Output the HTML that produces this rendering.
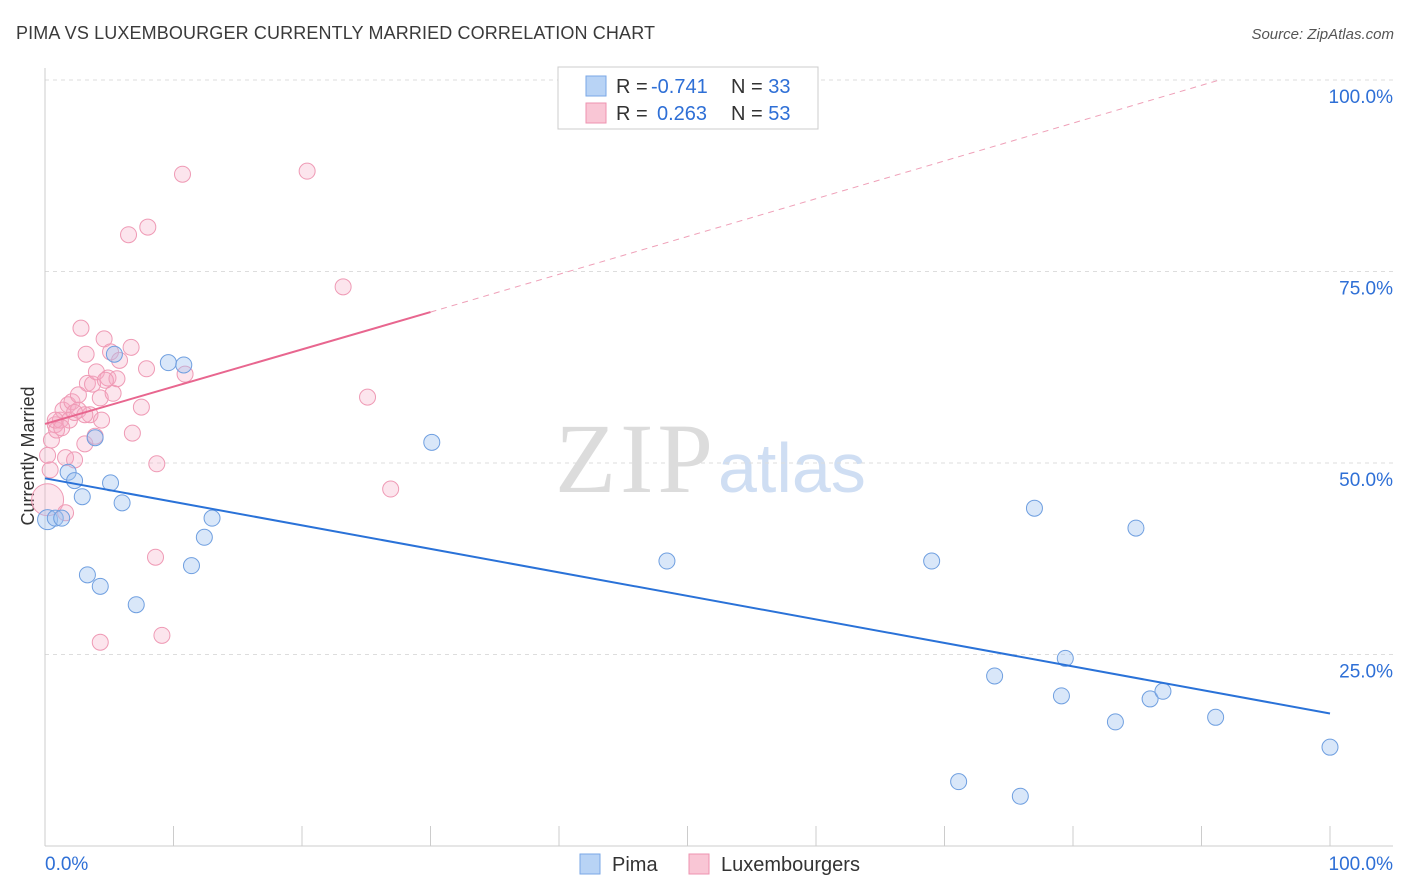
<!DOCTYPE html>
<html><head><meta charset="utf-8"><style>
body{margin:0;background:#fff;font-family:"Liberation Sans",sans-serif;}
#c{position:absolute;left:0;top:0;}
</style></head><body>
<svg id="c" width="1406" height="892">
<text x="16" y="39" font-size="18" fill="#3a3a3a" textLength="639">PIMA VS LUXEMBOURGER CURRENTLY MARRIED CORRELATION CHART</text>
<text x="1394" y="39" font-size="15" fill="#555" text-anchor="end" font-style="italic">Source: ZipAtlas.com</text>
<text x="34" y="456" font-size="18" fill="#333" text-anchor="middle" transform="rotate(-90 34 456)">Currently Married</text>
<g id="wm">
<text x="555" y="492" font-size="100" font-family="Liberation Serif,serif" fill="#dcdcdc" textLength="158">ZIP</text>
<text x="718" y="492" font-size="70" fill="#cfdef3">atlas</text>
</g>
<g id="grid"></g><g id="axes"></g><g id="marks"></g>
<g>
<rect x="558" y="67" width="260" height="62" fill="#fff" stroke="#ccc"/>
<rect x="586" y="76" width="20" height="20" fill="#b8d3f5" stroke="#7aa7e6"/>
<rect x="586" y="103" width="20" height="20" fill="#f9c6d5" stroke="#ee93b0"/>
<text x="616" y="93" font-size="20" fill="#333">R = <tspan fill="#2e6fd6" x="651">-0.741</tspan><tspan x="731">N = </tspan><tspan fill="#2e6fd6">33</tspan></text>
<text x="616" y="120" font-size="20" fill="#333">R = <tspan fill="#2e6fd6" x="657">0.263</tspan><tspan x="731">N = </tspan><tspan fill="#2e6fd6">53</tspan></text>
</g>
<g>
<rect x="580" y="854" width="20" height="20" fill="#b8d3f5" stroke="#7aa7e6"/>
<text x="612" y="871" font-size="20" fill="#333">Pima</text>
<rect x="689" y="854" width="20" height="20" fill="#f9c6d5" stroke="#ee93b0"/>
<text x="721" y="871" font-size="20" fill="#333">Luxembourgers</text>
</g>
</svg>
<script>
const yTicks=[25,50,75,100];
const yTickLabels=["25.0%","50.0%","75.0%","100.0%"];
const xTickLabels=["0.0%","100.0%"];
const pimaX=[0.2,0.8,1.3,1.8,2.3,2.9,3.9,3.3,4.3,5.1,5.4,6.0,7.1,9.6,10.8,11.4,12.4,13.0,30.1,48.4,69.0,73.9,71.1,75.9,77.0,79.4,79.1,83.3,84.9,86.0,87.0,91.1,100];
const pimaY=[42.6,42.8,42.8,48.8,47.7,45.6,53.3,35.4,33.9,47.4,64.2,44.8,31.5,63.1,62.8,36.6,40.3,42.8,52.7,37.2,37.2,22.2,8.4,6.5,44.1,24.5,19.6,16.2,41.5,19.2,20.2,16.8,12.9];
const luxX=[0.2,0.2,0.5,0.8,0.9,1.2,1.4,1.6,1.6,1.8,1.9,2.1,2.3,2.6,2.8,3.1,3.2,3.3,3.5,3.7,3.9,4.0,4.3,4.4,4.6,4.9,5.1,5.3,5.6,5.8,6.5,6.7,6.8,7.5,7.9,8.0,8.6,8.7,9.1,10.7,10.9,4.3,20.4,23.2,25.1,26.9,0.8,1.3,3.1,0.4,2.6,4.7,2.3];
const luxY=[45.2,51.0,53.0,55.0,54.3,55.6,56.9,50.7,43.5,57.6,55.6,58.0,50.4,56.9,67.6,52.5,64.2,60.4,56.3,60.3,53.5,61.9,58.5,55.6,66.2,61.1,64.5,59.1,61.0,63.4,79.8,65.1,53.9,57.3,62.3,80.8,37.7,49.9,27.5,87.7,61.6,26.6,88.1,73.0,58.6,46.6,55.6,54.6,56.3,49.1,58.9,60.8,56.6];
const pimaTrend=[[0,48.0],[100,17.3]];
const luxTrend=[[0,55.1],[30,69.7]];
const luxTrendExt=[[30,69.7],[91.4,100]];
const NS="http://www.w3.org/2000/svg";
const X=v=>45+v*12.85, Y=v=>846-v*7.66;
function mk(t,a,p){const e=document.createElementNS(NS,t);for(const k in a)e.setAttribute(k,a[k]);p.appendChild(e);return e;}
const grid=document.getElementById('grid'),axes=document.getElementById('axes'),marks=document.getElementById('marks');
yTicks.forEach((t,i)=>{
 const l=mk('line',{x1:45,x2:1393,y1:Y(t),y2:Y(t),stroke:'#ddd','stroke-dasharray':'4,4'},grid);
 
 
 const tx=mk('text',{x:1393,y:Y(t)+23,'font-size':19,fill:'#2e6fd6','text-anchor':'end'},axes);
 tx.textContent=yTickLabels[i];
 
 
});
mk('line',{x1:45,x2:45,y1:68,y2:846,stroke:'#ccc'},axes);
mk('line',{x1:45,x2:1393,y1:846,y2:846,stroke:'#ccc'},axes);
for(let i=0;i<=10;i++){const t=mk('line',{x1:X(i*10),x2:X(i*10),y1:826,y2:846,stroke:'#ccc'},axes);
 
 }
[[0,'start'],[100,'end']].forEach((p,i)=>{const tx=mk('text',{x:i?1393:45,y:870,'font-size':19,fill:'#2e6fd6','text-anchor':p[1]},axes);tx.textContent=xTickLabels[i];
 
 });
function line(d,c,w,dash,name){const l=mk('line',{x1:X(d[0][0]),y1:Y(d[0][1]),x2:X(d[1][0]),y2:Y(d[1][1]),stroke:c,'stroke-width':w},marks);if(dash)l.setAttribute('stroke-dasharray',dash);
 
 }
luxX.forEach((x,i)=>{const c=mk('circle',{cx:X(x),cy:Y(luxY[i]),r:i==0?16:8,fill:'rgba(246,170,194,0.3)',stroke:'#ef9ab5','stroke-width':1},marks);
 
 });
pimaX.forEach((x,i)=>{const c=mk('circle',{cx:X(x),cy:Y(pimaY[i]),r:i==0?10:8,fill:'rgba(160,195,240,0.4)',stroke:'#6f9fe0','stroke-width':1},marks);
 
 });
line(pimaTrend,'#2a72d8',2,null,'pima-trend-line');
line(luxTrend,'#e8668f',2,null,'luxembourger-trend-line');
line(luxTrendExt,'#efa0b8',1,'6,5','luxembourger-trend-extension');
</script>
</body></html>
